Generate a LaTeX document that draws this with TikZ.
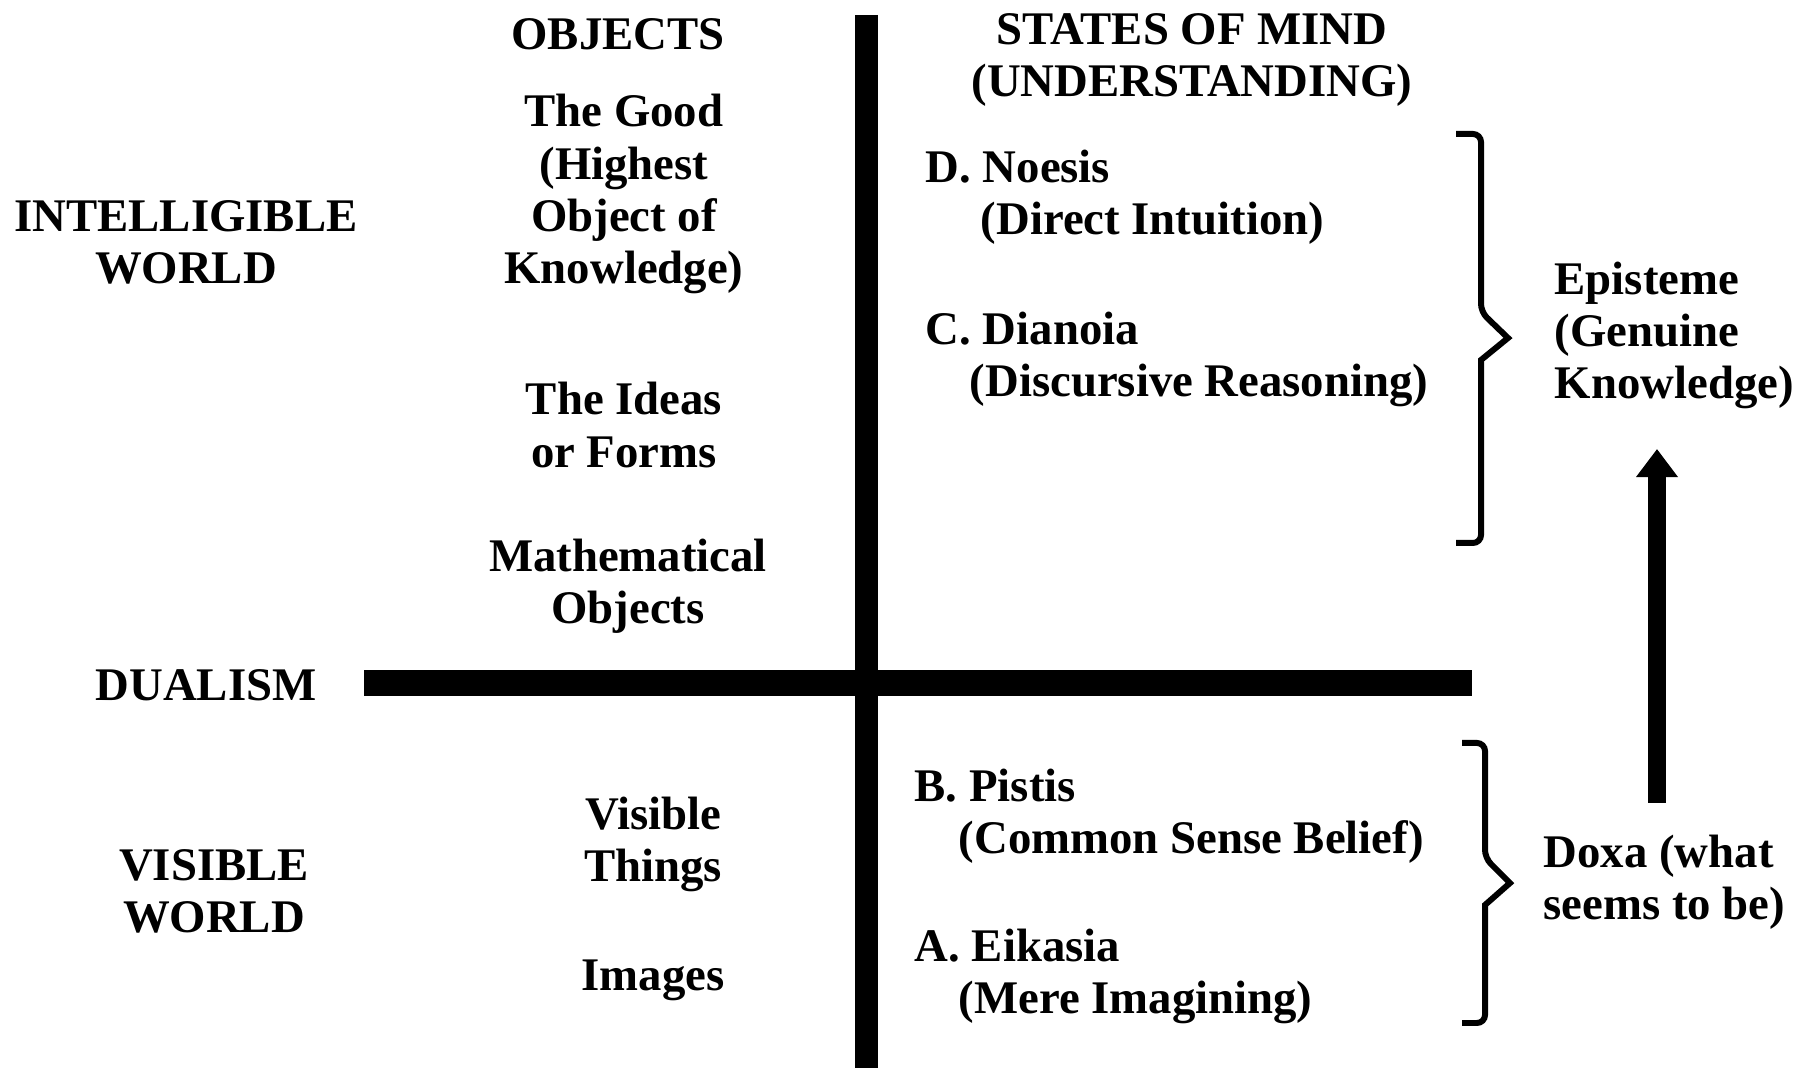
\documentclass[tikz,border=0pt]{standalone}
\usepackage{fontspec}
\setmainfont{Liberation Serif}
\usetikzlibrary{arrows.meta}

\begin{document}
\begin{tikzpicture}[x=0.01cm, y=-0.01cm, every node/.style={font=\fontsize{13.3}{14.8}\selectfont\bfseries, inner sep=0pt}, ctr/.style={align=center}, lft/.style={align=left, anchor=west}, bar/.style={line width=#1}, brc/.style={line width=1.7pt, rounded corners=0.08cm}]
\useasboundingbox (0,0) rectangle (1796,1068);
\node (objects) at (618,34) {OBJECTS};
\node[ctr] (states) at (1192,60) {STATES OF MIND\\(UNDERSTANDING)};
\node[ctr] (good) at (624,194) {The Good\\(Highest\\Object of\\Knowledge)};
\node[ctr] (intell) at (186,242) {INTELLIGIBLE\\WORLD};
\node[lft] (noesis) at (925,197) {D. Noesis\\\hspace*{0.55cm}(Direct Intuition)};
\node[lft] (dianoia) at (925,359) {C. Dianoia\\\hspace*{0.44cm}(Discursive Reasoning)};
\node[lft] (episteme) at (1554,335) {Episteme\\(Genuine\\Knowledge)};
\node[ctr] (ideas) at (624,425) {The Ideas\\or Forms};
\node[ctr] (math) at (628,586) {Mathematical\\Objects};
\node (dualism) at (206,685) {DUALISM};
\node[ctr] (visible) at (653,844) {Visible\\Things};
\node (images) at (653,980) {Images};
\node[ctr] (visworld) at (214,891) {VISIBLE\\WORLD};
\node[lft] (pistis) at (914,816) {B. Pistis\\\hspace*{0.44cm}(Common Sense Belief)};
\node[lft] (eikasia) at (914,976) {A. Eikasia\\\hspace*{0.44cm}(Mere Imagining)};
\node[lft] (doxa) at (1543,882) {Doxa (what\\seems to be)};
\coordinate (vtop) at (866,15);
\coordinate (vbot) at (866,1068);
\coordinate (hleft) at (364,683);
\coordinate (hright) at (1472,683);
\coordinate (arrlo) at (1657,803);
\coordinate (arrup) at (1657,449);
\coordinate (epi1) at (1456,134);
\coordinate (epi2) at (1456,543);
\coordinate (dox1) at (1462,743);
\coordinate (dox2) at (1462,1023);
\draw[bar=0.23cm] (vtop) -- (vbot);
\draw[bar=0.26cm] (hleft) -- (hright);
\draw[bar=0.18cm, -{Triangle[length=0.28cm,width=0.40cm]}] (arrlo) -- (arrup);
\draw[brc] (epi1) -- ++(25,0) -- ++(0,178) [sharp corners] -- ++(27,26) -- ++(-27,22) [rounded corners=0.08cm] -- ++(0,183) -- (epi2);
\draw[brc] (dox1) -- ++(23,0) -- ++(0,115) [sharp corners] -- ++(25,25) -- ++(-25,22) [rounded corners=0.08cm] -- ++(0,118) -- (dox2);
\end{tikzpicture}
\end{document}
